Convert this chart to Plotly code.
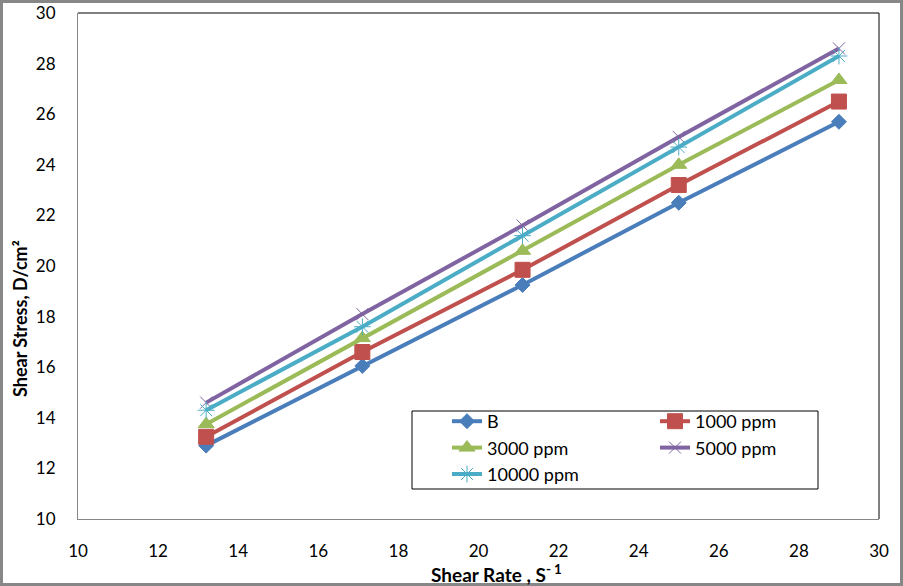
import plotly.graph_objects as go

shear_rate = [13.2, 17.1, 21.1, 25.0, 29.0]
stress_B = [12.9, 16.05, 19.25, 22.5, 25.7]
stress_1000 = [13.25, 16.6, 19.85, 23.2, 26.5]
stress_3000 = [13.75, 17.15, 20.6, 24.0, 27.35]
stress_5000 = [14.6, 18.1, 21.6, 25.1, 28.6]
stress_10000 = [14.3, 17.6, 21.2, 24.7, 28.3]

series = [
    ("B", stress_B, "#4A7EBB", "diamond", 11.5, "legend"),
    ("1000 ppm", stress_1000, "#C0504D", "square", 15, "legend2"),
    ("3000 ppm", stress_3000, "#9BBB59", "triangle-up", 14, "legend"),
    ("5000 ppm", stress_5000, "#8064A2", "x-thin", 12, "legend2"),
    ("10000 ppm", stress_10000, "#4BACC6", "asterisk", 14, "legend"),
]

FONT = "Lato"
fig = go.Figure()
for name, ys, col, sym, sz, lg in series:
    fig.add_trace(go.Scatter(
        x=shear_rate, y=ys, name=name, mode="lines+markers",
        line=dict(color=col, width=4),
        marker=dict(symbol=sym, size=sz, color=col, line=dict(color=col, width=1)),
        legend=lg,
    ))

W, H = 903, 586
L, R, T, B = 78, 24, 13, 67
pw, ph = W - L - R, H - T - B

def px(xp):
    return (xp - L) / pw

def py(yp):
    return (H - B - yp) / ph

fig.update_layout(
    width=W, height=H,
    margin=dict(l=L, r=R, t=T, b=B, autoexpand=False),
    paper_bgcolor="white", plot_bgcolor="white",
    font=dict(family=FONT, size=17, color="#000"),
    xaxis=dict(range=[10, 30], dtick=2, tick0=10, showgrid=False, zeroline=False,
               showline=True, linecolor="#868686", linewidth=1, ticks="",
               automargin=False,
               ticklabelstandoff=17, tickfont=dict(size=17, family=FONT)),
    yaxis=dict(range=[10, 30], dtick=2, tick0=10, showgrid=False, zeroline=False,
               showline=True, linecolor="#868686", linewidth=1, ticks="",
               automargin=False,
               ticklabelstandoff=18, tickfont=dict(size=17, family=FONT)),
    legend=dict(x=px(447), y=py(403), xanchor="left", yanchor="top",
                bgcolor="rgba(0,0,0,0)", font=dict(size=18, family=FONT),
                tracegroupgap=0, itemwidth=30),
    legend2=dict(x=px(655), y=py(403), xanchor="left", yanchor="top",
                 bgcolor="rgba(0,0,0,0)", font=dict(size=18, family=FONT),
                 tracegroupgap=0, itemwidth=30),
    showlegend=True,
)

shapes = [
    dict(type="line", xref="paper", yref="paper", x0=0, x1=1, y0=1, y1=1,
         line=dict(color="black", width=1)),
    dict(type="line", xref="paper", yref="paper", x0=1, x1=1, y0=0, y1=1,
         line=dict(color="black", width=1)),
    dict(type="rect", xref="paper", yref="paper", x0=px(412), x1=px(818),
         y0=py(489), y1=py(411), line=dict(color="black", width=1), layer="below"),
    dict(type="rect", xref="paper", yref="paper", x0=px(1.5), x1=px(W - 1.5),
         y0=py(H - 1.5), y1=py(1.5), line=dict(color="#878787", width=3)),
]
fig.update_layout(shapes=shapes)

fig.add_annotation(text="<b>Shear Rate , S</b><sup><b>- 1</b></sup>", xref="paper", yref="paper",
                   x=px(496), y=py(573), xanchor="center", yanchor="middle",
                   showarrow=False, font=dict(size=19, family=FONT))
fig.add_annotation(text="<b>Shear Stress, D/cm²</b>", xref="paper", yref="paper",
                   x=px(20), y=py(319), xanchor="center", yanchor="middle",
                   showarrow=False, textangle=-90,
                   font=dict(size=18, family=FONT))

fig.write_html("out.html")
